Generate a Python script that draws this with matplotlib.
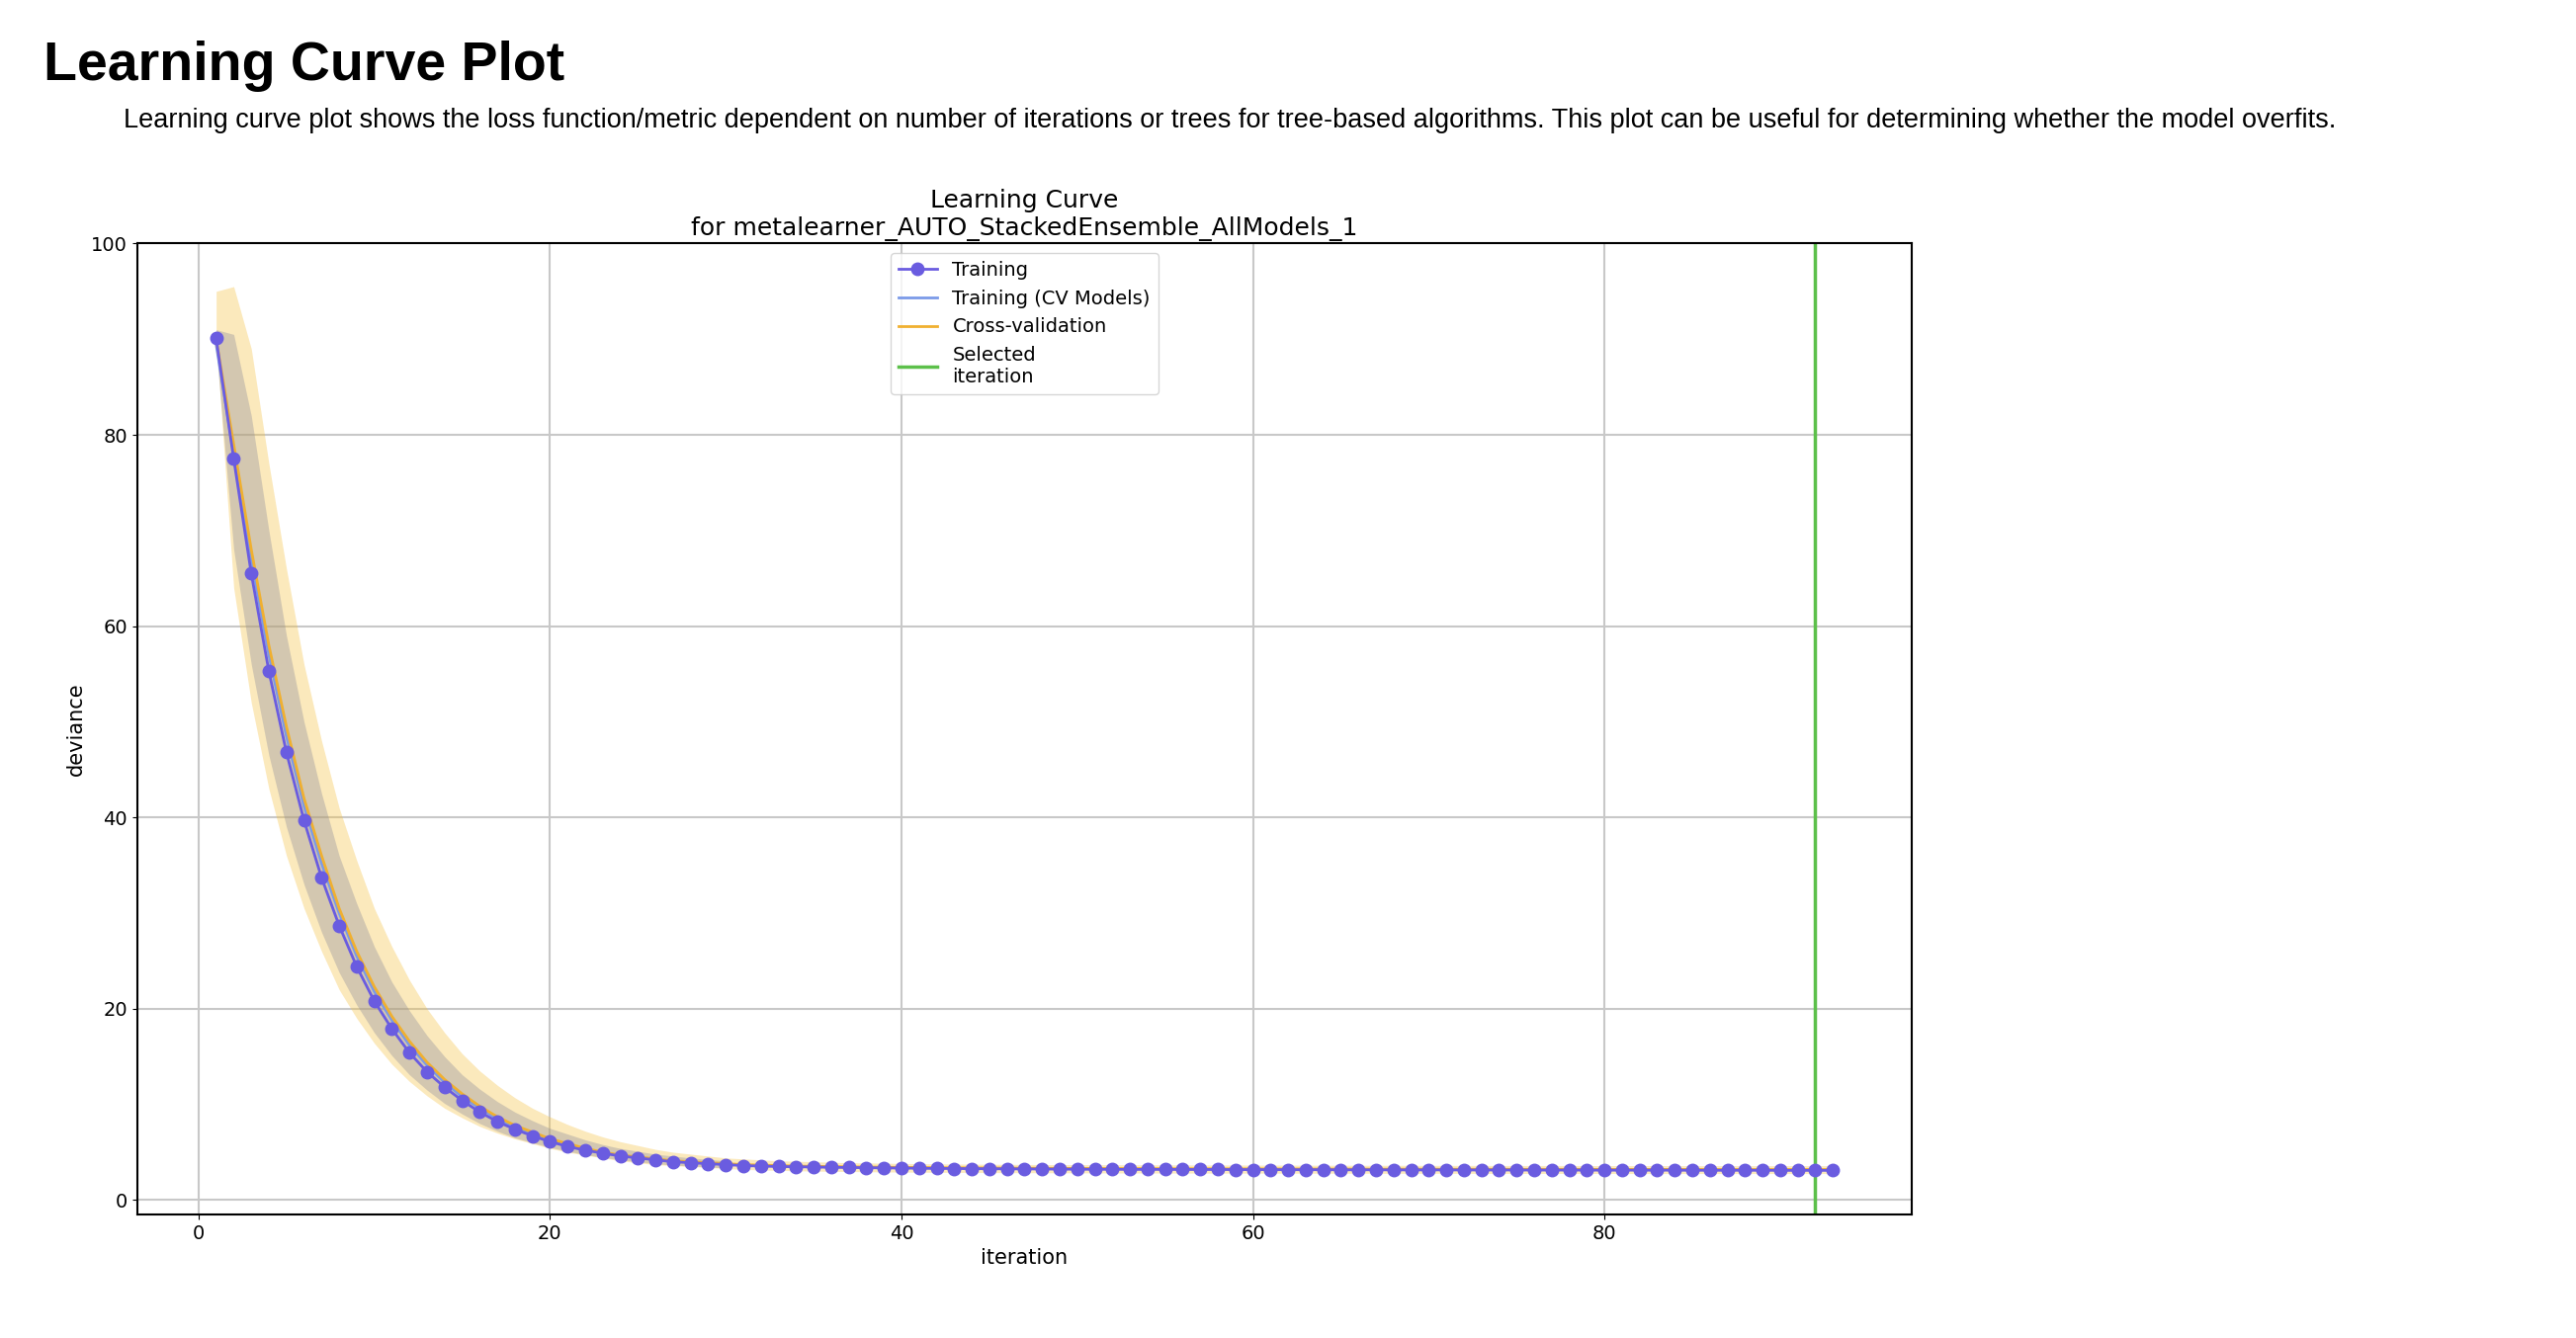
import matplotlib
matplotlib.use("Agg")
import matplotlib.pyplot as plt

iterations = list(range(1, 94))
training = [90.1, 77.5, 65.5, 55.3, 46.8, 39.7, 33.7, 28.7, 24.4, 20.8,
            17.9, 15.4, 13.4, 11.8, 10.4, 9.2, 8.2, 7.4, 6.7, 6.1,
            5.6, 5.2, 4.9, 4.6, 4.4, 4.2, 4.0, 3.9, 3.8, 3.7,
            3.6, 3.55, 3.5, 3.48, 3.45, 3.42, 3.4, 3.38, 3.36, 3.34,
            3.32, 3.3, 3.29, 3.28, 3.27, 3.26, 3.25, 3.24, 3.23, 3.22,
            3.21, 3.21, 3.2, 3.2, 3.2, 3.19, 3.19, 3.19, 3.18, 3.18,
            3.18, 3.17, 3.17, 3.17, 3.16, 3.16, 3.16, 3.15, 3.15, 3.15,
            3.15, 3.14, 3.14, 3.14, 3.14, 3.13, 3.13, 3.13, 3.13, 3.12,
            3.12, 3.12, 3.12, 3.12, 3.11, 3.11, 3.11, 3.11, 3.11, 3.1,
            3.1, 3.1, 3.1]
cv_mean = [90.0, 79.0, 68.0, 58.0, 49.5, 42.0, 36.0, 30.5, 26.0, 22.3,
           19.2, 16.6, 14.4, 12.6, 11.1, 9.8, 8.7, 7.8, 7.1, 6.4,
           5.9, 5.4, 5.0, 4.7, 4.5, 4.3, 4.1, 4.0, 3.9, 3.8,
           3.7, 3.65, 3.6, 3.55, 3.52, 3.5, 3.47, 3.45, 3.43, 3.41,
           3.4, 3.38, 3.37, 3.36, 3.35, 3.34, 3.33, 3.32, 3.31, 3.3,
           3.3, 3.29, 3.29, 3.28, 3.28, 3.27, 3.27, 3.26, 3.26, 3.26,
           3.25, 3.25, 3.25, 3.24, 3.24, 3.24, 3.23, 3.23, 3.23, 3.23,
           3.22, 3.22, 3.22, 3.22, 3.21, 3.21, 3.21, 3.21, 3.21, 3.2,
           3.2, 3.2, 3.2, 3.2, 3.2, 3.19, 3.19, 3.19, 3.19, 3.19,
           3.19, 3.19, 3.19]
cv_upper = [95.0, 95.5, 89.0, 77.0, 66.0, 56.0, 48.0, 41.0, 35.5, 30.5,
            26.5, 23.0, 20.0, 17.5, 15.3, 13.5, 12.0, 10.7, 9.6, 8.7,
            7.9, 7.2, 6.6, 6.1, 5.7, 5.3, 5.0, 4.8, 4.6, 4.4,
            4.3, 4.2, 4.1, 4.05, 4.0, 3.95, 3.9, 3.88, 3.85, 3.83,
            3.8, 3.78, 3.76, 3.75, 3.74, 3.73, 3.72, 3.71, 3.7, 3.7,
            3.69, 3.69, 3.68, 3.68, 3.67, 3.67, 3.66, 3.66, 3.66, 3.65,
            3.65, 3.65, 3.64, 3.64, 3.64, 3.63, 3.63, 3.63, 3.63, 3.62,
            3.62, 3.62, 3.62, 3.61, 3.61, 3.61, 3.61, 3.61, 3.6, 3.6,
            3.6, 3.6, 3.6, 3.6, 3.59, 3.59, 3.59, 3.59, 3.59, 3.59,
            3.59, 3.59, 3.59]
cv_lower = [90.0, 64.0, 52.0, 43.0, 36.0, 30.5, 26.0, 22.0, 19.0, 16.4,
            14.2, 12.4, 10.9, 9.6, 8.6, 7.7, 7.0, 6.4, 5.9, 5.4,
            5.0, 4.7, 4.4, 4.1, 3.9, 3.7, 3.6, 3.5, 3.4, 3.3,
            3.2, 3.15, 3.1, 3.06, 3.03, 3.0, 2.98, 2.96, 2.94, 2.92,
            2.91, 2.9, 2.89, 2.88, 2.87, 2.86, 2.86, 2.85, 2.85, 2.84,
            2.84, 2.83, 2.83, 2.83, 2.82, 2.82, 2.82, 2.81, 2.81, 2.81,
            2.81, 2.8, 2.8, 2.8, 2.8, 2.8, 2.79, 2.79, 2.79, 2.79,
            2.79, 2.79, 2.78, 2.78, 2.78, 2.78, 2.78, 2.78, 2.78, 2.78,
            2.77, 2.77, 2.77, 2.77, 2.77, 2.77, 2.77, 2.77, 2.77, 2.77,
            2.77, 2.77, 2.77]
cvm_mean = [89.5, 78.0, 67.0, 57.0, 48.5, 41.2, 35.2, 30.0, 25.5, 21.8,
            18.8, 16.2, 14.1, 12.3, 10.8, 9.6, 8.5, 7.6, 6.9, 6.3,
            5.8, 5.3, 4.95, 4.65, 4.45, 4.25, 4.05, 3.95, 3.85, 3.75]
cvm_upper = [91.0, 90.5, 82.0, 70.0, 59.0, 50.0, 42.5, 36.0, 31.0, 26.5,
             22.8, 19.8, 17.2, 15.0, 13.1, 11.6, 10.3, 9.2, 8.3, 7.5,
             6.9, 6.3, 5.8, 5.4, 5.1, 4.8, 4.6, 4.4, 4.25, 4.1]
cvm_lower = [89.0, 68.0, 56.0, 46.5, 39.0, 33.0, 28.0, 23.8, 20.4, 17.5,
             15.1, 13.1, 11.5, 10.1, 9.0, 8.0, 7.2, 6.5, 6.0, 5.5,
             5.1, 4.75, 4.45, 4.2, 4.0, 3.8, 3.65, 3.55, 3.45, 3.35]
selected_iteration = 92

fig = plt.figure(figsize=(26.06, 13.54), dpi=100)
fig.text(0.017, 0.97, "Learning Curve Plot", fontsize=40, fontweight="bold",
         family="Liberation Sans", va="top")
fig.text(0.048, 0.91, "Learning curve plot shows the loss function/metric dependent on number of iterations or trees for tree-based algorithms. This plot can be useful for determining whether the model overfits.",
         fontsize=19.5, family="Liberation Sans", va="center")

ax = fig.add_axes([0.0532, 0.0924, 0.689, 0.7256])
n = len(cvm_mean)
ax.fill_between(iterations, cv_lower, cv_upper, color="#f5c040", alpha=0.35, lw=0)
ax.fill_between(iterations[:n], cvm_lower, cvm_upper, color="#8a8a9a", alpha=0.35, lw=0)
ax.plot(iterations, training, "o-", color="#6a5ce0", ms=9, lw=2, label="Training", zorder=4)
ax.plot(iterations[:n], cvm_mean, color="#7b9ae8", lw=2, label="Training (CV Models)", zorder=3)
ax.plot(iterations, cv_mean, color="#f0b030", lw=2, label="Cross-validation", zorder=3)
ax.axvline(selected_iteration, color="#5cc04a", lw=2.5, label="Selected\niteration")
ax.set_ylim(-1.5, 100)
ax.set_xlim(-3.5, 97.5)
ax.set_xticks([0, 20, 40, 60, 80])
ax.set_yticks([0, 20, 40, 60, 80, 100])
ax.grid(True, color="#c8c8c8", lw=1.5)
ax.set_axisbelow(True)
ax.tick_params(labelsize=14)
ax.set_xlabel("iteration", fontsize=15)
ax.set_ylabel("deviance", fontsize=15)
ax.set_title("Learning Curve\nfor metalearner_AUTO_StackedEnsemble_AllModels_1", fontsize=18)
for s in ax.spines.values():
    s.set_linewidth(1.5)
ax.legend(loc="upper center", fontsize=14, bbox_to_anchor=(0.5, 1.0))
fig.savefig("out.png", dpi=100)
